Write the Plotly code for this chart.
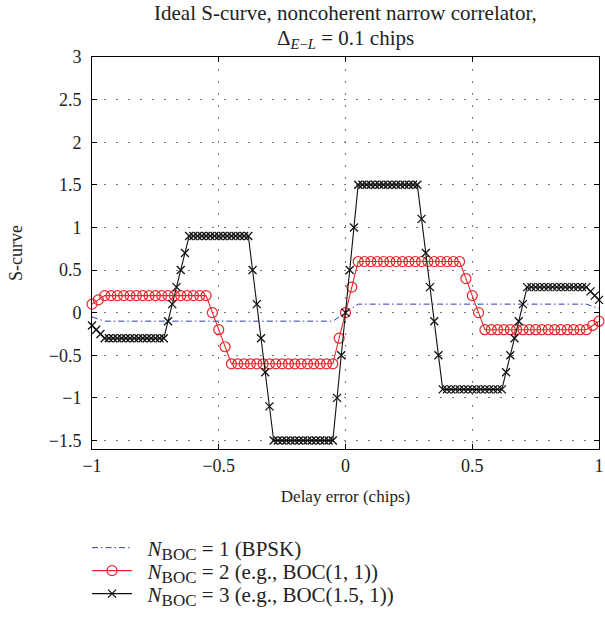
import plotly.graph_objects as go

# Sample grids (delay error in chips) for each curve
x_bpsk = [round(-1 + 0.05 * k, 4) for k in range(41)]
x_boc2 = [round(-1 + 0.025 * k, 4) for k in range(81)]
x_boc3 = [round(-1 + k / 60, 6) for k in range(121)]

# N_BOC = 1 (BPSK)
s_bpsk = [
    -0.05, -0.1, -0.1, -0.1, -0.1, -0.1, -0.1, -0.1, -0.1, -0.1,
    -0.1, -0.1, -0.1, -0.1, -0.1, -0.1, -0.1, -0.1, -0.1, -0.1,
    0.0,
    0.1, 0.1, 0.1, 0.1, 0.1, 0.1, 0.1, 0.1, 0.1, 0.1,
    0.1, 0.1, 0.1, 0.1, 0.1, 0.1, 0.1, 0.1, 0.1, 0.05,
]

# N_BOC = 2 (e.g., BOC(1,1))
s_boc2 = [
    0.1, 0.15,
    0.2, 0.2, 0.2, 0.2, 0.2, 0.2, 0.2, 0.2, 0.2, 0.2, 0.2, 0.2, 0.2, 0.2, 0.2, 0.2, 0.2,
    0.0, -0.2, -0.4,
    -0.6, -0.6, -0.6, -0.6, -0.6, -0.6, -0.6, -0.6, -0.6, -0.6, -0.6, -0.6, -0.6, -0.6, -0.6, -0.6, -0.6,
    -0.3,
    0.0,
    0.3,
    0.6, 0.6, 0.6, 0.6, 0.6, 0.6, 0.6, 0.6, 0.6, 0.6, 0.6, 0.6, 0.6, 0.6, 0.6, 0.6, 0.6,
    0.4, 0.2, 0.0,
    -0.2, -0.2, -0.2, -0.2, -0.2, -0.2, -0.2, -0.2, -0.2, -0.2, -0.2, -0.2, -0.2, -0.2, -0.2, -0.2, -0.2,
    -0.15, -0.1,
]

# N_BOC = 3 (e.g., BOC(1.5,1))
s_boc3 = [
    -0.15, -0.2, -0.25,
    -0.3, -0.3, -0.3, -0.3, -0.3, -0.3, -0.3, -0.3, -0.3, -0.3, -0.3, -0.3, -0.3, -0.3, -0.3,
    -0.1, 0.1, 0.3, 0.5, 0.7,
    0.9, 0.9, 0.9, 0.9, 0.9, 0.9, 0.9, 0.9, 0.9, 0.9, 0.9, 0.9, 0.9, 0.9, 0.9,
    0.5, 0.1, -0.3, -0.7, -1.1,
    -1.5, -1.5, -1.5, -1.5, -1.5, -1.5, -1.5, -1.5, -1.5, -1.5, -1.5, -1.5, -1.5, -1.5, -1.5,
    -1.0, -0.5,
    0.0,
    0.5, 1.0,
    1.5, 1.5, 1.5, 1.5, 1.5, 1.5, 1.5, 1.5, 1.5, 1.5, 1.5, 1.5, 1.5, 1.5, 1.5,
    1.1, 0.7, 0.3, -0.1, -0.5,
    -0.9, -0.9, -0.9, -0.9, -0.9, -0.9, -0.9, -0.9, -0.9, -0.9, -0.9, -0.9, -0.9, -0.9, -0.9,
    -0.7, -0.5, -0.3, -0.1, 0.1,
    0.3, 0.3, 0.3, 0.3, 0.3, 0.3, 0.3, 0.3, 0.3, 0.3, 0.3, 0.3, 0.3, 0.3, 0.3,
    0.25, 0.2, 0.15,
]

x_ticks = [-1, -0.5, 0, 0.5, 1]
x_ticktext = ["−1", "−0.5", "0", "0.5", "1"]
y_ticks = [-1.5, -1, -0.5, 0, 0.5, 1, 1.5, 2, 2.5, 3]
y_ticktext = ["−1.5", "−1", "−0.5", "0", "0.5", "1", "1.5", "2", "2.5", "3"]

SUB = '<sub><span style="font-size:17px">BOC</span></sub>'
names = [
    "\u00a0\u00a0<i>N</i>" + SUB + " = 1 (BPSK)",
    "\u00a0\u00a0<i>N</i>" + SUB + " = 2 (e.g., BOC(1, 1))",
    "\u00a0\u00a0<i>N</i>" + SUB + " = 3 (e.g., BOC(1.5, 1))",
]

SERIF = "Liberation Serif"
INK = "#222222"

# plot area in pixels: left 92, right 604, top 57, bottom 449
PLOT_TOP, PLOT_BOTTOM, PLOT_LEFT, PLOT_W = 57, 449, 92, 512


def py(ypix):
    return (PLOT_BOTTOM - ypix) / (PLOT_BOTTOM - PLOT_TOP)


def px(xpix):
    return (xpix - PLOT_LEFT) / PLOT_W


fig = go.Figure()
fig.add_trace(go.Scatter(
    x=x_bpsk, y=s_bpsk, mode="lines", name=names[0], legend="legend",
    line=dict(color="#2e3cb0", width=1, dash="6px,3px,1.5px,3px"),
))
fig.add_trace(go.Scatter(
    x=x_boc2, y=s_boc2, mode="lines+markers", name=names[1], legend="legend2",
    line=dict(color="#e8262b", width=1.1),
    marker=dict(symbol="circle-open", size=10, color="#e8262b", line=dict(width=1.2)),
    cliponaxis=False,
))
fig.add_trace(go.Scatter(
    x=x_boc3, y=s_boc3, mode="lines+markers", name=names[2], legend="legend3",
    line=dict(color="#111111", width=1.1),
    marker=dict(symbol="x-thin", size=8, color="#111111", line=dict(width=1.3, color="#111111")),
    cliponaxis=False,
))

axis_common = dict(
    showline=True, linecolor="black", linewidth=1, mirror="ticks",
    ticks="inside", ticklen=5, tickcolor="black", tickwidth=1,
    showgrid=True, gridcolor="#777777", gridwidth=1, griddash="2px,10px",
    zeroline=False, ticklabeloverflow="allow",
    tickfont=dict(family=SERIF, size=18, color=INK),
)

fig.update_xaxes(
    range=[-1, 1], tickvals=x_ticks, ticktext=x_ticktext,
    title=dict(text="Delay error (chips)", font=dict(family=SERIF, size=17, color=INK), standoff=15),
    **axis_common,
)
fig.update_yaxes(
    range=[-1.6, 3], tickvals=y_ticks, ticktext=y_ticktext,
    title=dict(text="S-curve", font=dict(family=SERIF, size=18, color=INK), standoff=21),
    ticklabelstandoff=6,
    **axis_common,
)

legend_common = dict(
    xanchor="left", yanchor="middle", x=px(87),
    font=dict(family=SERIF, size=21, color=INK),
    bgcolor="rgba(0,0,0,0)", itemwidth=40, borderwidth=0,
)

fig.update_layout(
    width=605, height=621,
    margin=dict(l=92, r=1, t=57, b=172),
    paper_bgcolor="white", plot_bgcolor="white",
    font=dict(family=SERIF, size=16, color=INK),
    showlegend=True,
    legend=dict(y=py(548), **legend_common),
    legend2=dict(y=py(571), **legend_common),
    legend3=dict(y=py(594), **legend_common),
    annotations=[
        dict(text="Ideal S-curve, noncoherent narrow correlator,", x=0.5, y=py(13),
             xref="paper", yref="paper", showarrow=False, xanchor="center", yanchor="middle",
             font=dict(family=SERIF, size=21, color=INK)),
        dict(text="Δ<sub><i>E</i>−<i>L</i></sub> = 0.1 chips", x=0.5, y=py(39),
             xref="paper", yref="paper", showarrow=False, xanchor="center", yanchor="middle",
             font=dict(family=SERIF, size=21, color=INK)),
    ],
)

fig.write_html("out.html")
